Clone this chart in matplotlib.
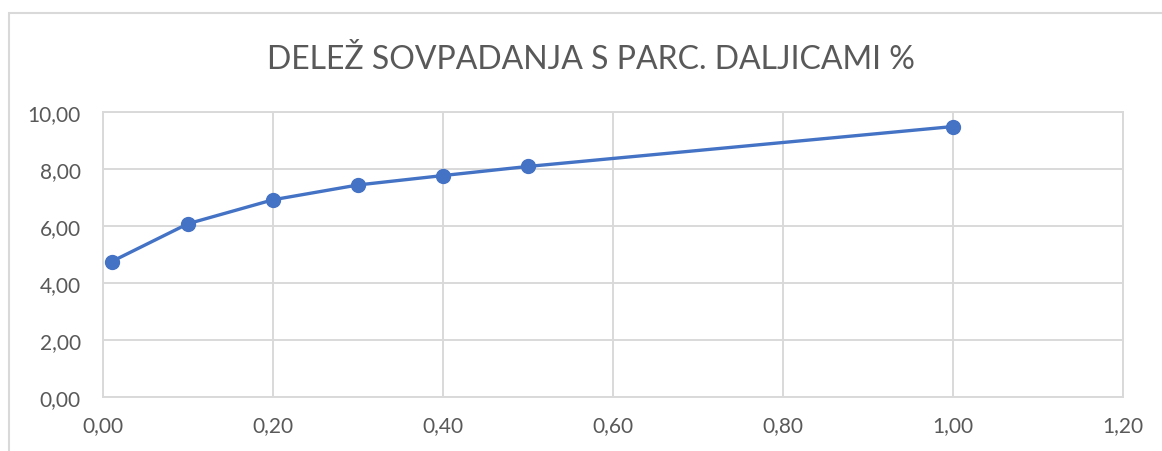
import matplotlib.pyplot as plt
from matplotlib.patches import Rectangle
from matplotlib.ticker import FuncFormatter, MultipleLocator

# data
x = [0.01, 0.1, 0.2, 0.3, 0.4, 0.5, 1.0]
y = [4.75, 6.08, 6.92, 7.44, 7.77, 8.09, 9.49]
title = "DELEŽ SOVPADANJA S PARC. DALJICAMI %"

plt.rcParams['font.family'] = ['Lato', 'DejaVu Sans']

fig = plt.figure(figsize=(11.62, 4.52), dpi=100)
ax = fig.add_axes([103 / 1162, 54 / 452, 1020 / 1162, 285 / 452])

ax.plot(x, y, c="#4472c4", linewidth=2.4, marker='o', markersize=10,
        markerfacecolor="#4472c4", markeredgecolor="#4472c4", zorder=3)

ax.set_xlim(0, 1.2)
ax.set_ylim(0, 10)
ax.xaxis.set_major_locator(MultipleLocator(0.2))
ax.yaxis.set_major_locator(MultipleLocator(2))
comma = FuncFormatter(lambda v, p: f"{v:.2f}".replace('.', ','))
ax.xaxis.set_major_formatter(comma)
ax.yaxis.set_major_formatter(comma)

ax.grid(True, color="#d9d9d9", linewidth=1.4)
ax.set_axisbelow(True)
for s in ax.spines.values():
    s.set_color("#d9d9d9")
    s.set_linewidth(1.4)
ax.tick_params(length=0, labelsize=15, labelcolor="#595959")
ax.tick_params(axis='x', pad=13)
ax.tick_params(axis='y', pad=16)

fig.text(591 / 1162, 1 - 60 / 452, title, ha='center', va='center',
         fontsize=23, color="#595959")

# chart area border (cut off at right and bottom)
fig.add_artist(Rectangle((8.5 / 1162, -0.1), 1.1, 0.1 + (452 - 14) / 452,
                         transform=fig.transFigure, fill=False,
                         edgecolor="#d9d9d9", linewidth=1.5))

fig.savefig("out.png", dpi=100)
